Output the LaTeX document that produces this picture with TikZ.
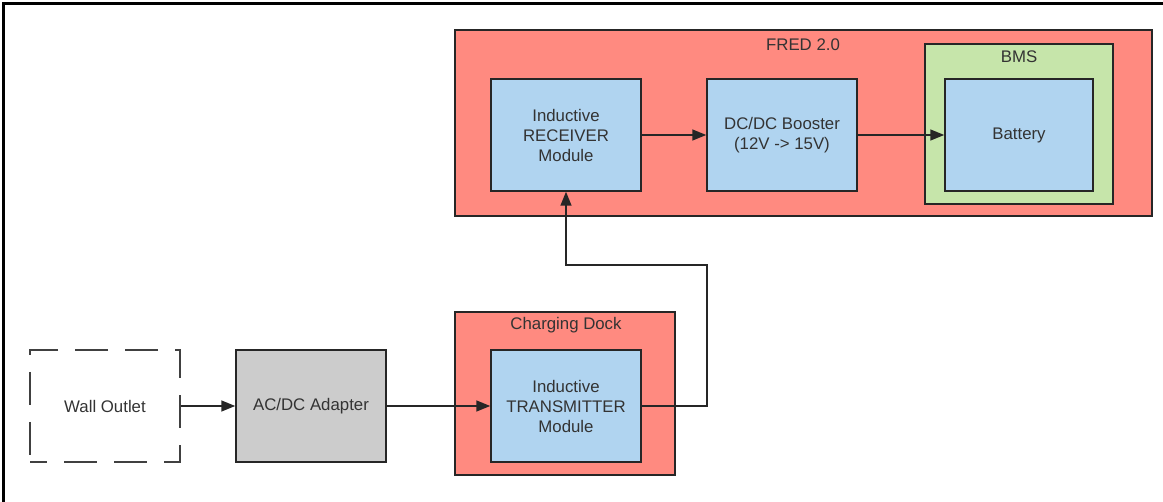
\documentclass[tikz,border=0pt]{standalone}
\usepackage{fontspec}
\setmainfont{Liberation Sans}
\usetikzlibrary{arrows.meta}
\definecolor{fredred}{RGB}{255,138,128}
\definecolor{modblue}{RGB}{176,212,240}
\definecolor{bmsgreen}{RGB}{198,229,170}
\definecolor{adaptgrey}{RGB}{204,204,204}
\definecolor{inkgrey}{RGB}{51,51,51}

\begin{document}
\begin{tikzpicture}[x=1pt,y=-1pt,
  font=\fontsize{16.8}{20}\selectfont, text=inkgrey,
  box/.style={draw=black!85,line width=1.5pt,minimum width=150pt,minimum height=112pt,align=center,inner sep=0pt},
  module/.style={box,fill=modblue},
  group/.style={draw=black!85,line width=1.5pt,inner sep=0pt},
  wire/.style={draw=black!85,line width=1.5pt,-{Triangle[length=14pt,width=11pt]}}]
\useasboundingbox (0,0) rectangle (1163,502);
% page frame (top and left edges only):
\draw[line width=3pt] (3.5,502) -- (3.5,3.5) -- (1163,3.5);
% groups:
\node[group,fill=fredred,minimum width=697pt,minimum height=186pt] (fred) at (803.5,123) {};
\node[anchor=base] (fredtitle) at (803,51) {FRED 2.0};
\node[group,fill=bmsgreen,minimum width=188pt,minimum height=160pt] (bms) at (1019,124) {};
\node[anchor=base] (bmstitle) at (1019,63) {BMS};
\node[group,fill=fredred,minimum width=220pt,minimum height=163pt] (dock) at (565,393.5) {};
\node[anchor=base] (docktitle) at (566,330) {Charging Dock};
% blocks:
\node[module] (receiver) at (566,135) {Inductive\\RECEIVER\\Module};
\node[module] (booster) at (782,135) {DC/DC Booster\\(12V -> 15V)};
\node[module,minimum width=148pt] (battery) at (1019,135) {Battery};
\node[module] (transmitter) at (566,406) {Inductive\\TRANSMITTER\\Module};
\node[box,draw=black!75,dash pattern=on 33pt off 17pt,dash phase=16pt] (outlet) at (105,406) {Wall Outlet};
\node[box,fill=adaptgrey] (adapter) at (311,406) {AC/DC Adapter};
% connections:
\coordinate (turn) at (707,265);
\draw[wire] (outlet) -- (adapter);
\draw[wire] (adapter) -- (transmitter);
\draw[wire] (transmitter.east) -| (turn) -| (receiver.south);
\draw[wire] (receiver) -- (booster);
\draw[wire] (booster) -- (battery);
\end{tikzpicture}
\end{document}
